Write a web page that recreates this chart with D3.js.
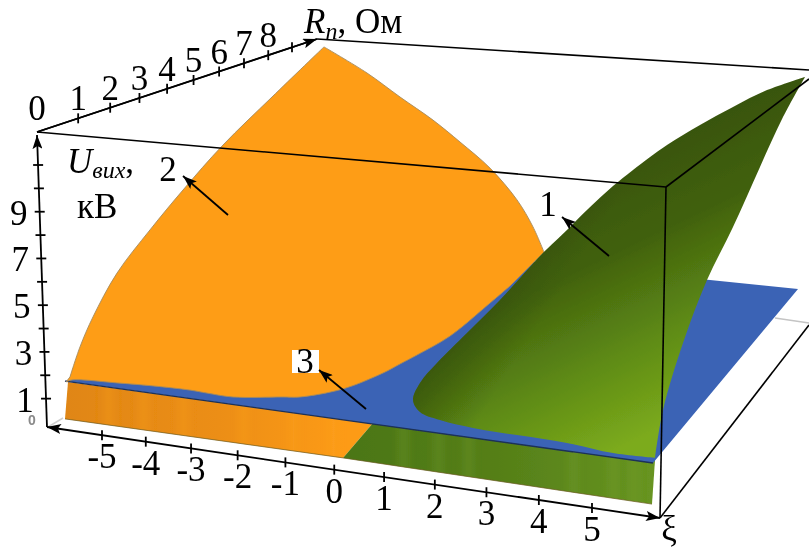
<!DOCTYPE html>
<html>
<head>
<meta charset="utf-8">
<script src="https://cdn.jsdelivr.net/npm/d3@7"></script>
<style>
	body { margin: 0; background: #fff; }
	svg { display: block; }
	text { font-family: 'Liberation Serif', serif; fill: #000; }
</style>
</head>
<body>
<svg id="chart" width="809" height="549"></svg>
<script>
// Tick values
var u_ticks = [1, 2, 3, 4, 5, 6, 7, 8, 9, 10, 11]
var u_labels = [1, 3, 5, 7, 9]
var rn_ticks = [1, 2, 3, 4, 5, 6, 7, 8, 9]
var rn_labels = [0, 1, 2, 3, 4, 5, 6, 7, 8]
var xi_ticks = [-5, -4, -3, -2, -1, 0, 1, 2, 3, 4, 5]

// Surface outlines, [xi, U] as read against the front face of the box
var orange_top = [[-0.59, 12.67], [0.27, 11.80], [0.93, 11.00], [1.59, 10.23], [2.13, 9.50], [2.73, 8.63], [3.27, 7.57], [3.59, 6.67], [3.81, 5.83]]
var orange_low = [[3.13, 4.70], [2.73, 4.13], [1.93, 3.03], [1.27, 2.40], [0.93, 2.10], [0.59, 1.80], [-0.21, 1.27], [-1.07, 1.00], [-1.41, 1.00], [-2.41, 1.00], [-2.93, 1.13], [-3.27, 1.23], [-4.01, 1.37], [-4.73, 1.47], [-5.63, 1.57], [-5.75, 1.50]]
var orange_left = [[-5.67, 1.67], [-5.47, 2.67], [-5.21, 3.67], [-4.73, 5.13], [-4.07, 6.57], [-3.41, 7.90], [-2.61, 9.40], [-1.63, 11.00], [-0.59, 12.67]]

var green_top = [[9.03, 11.67], [8.27, 11.23], [7.59, 10.67], [6.93, 10.07], [6.27, 9.40], [5.59, 8.57], [5.19, 8.03], [4.67, 7.23], [4.27, 6.57], [3.79, 5.80], [2.93, 4.23], [2.27, 3.13], [1.67, 2.13], [1.33, 1.47], [1.19, 0.90], [1.33, 0.50], [1.73, 0.23], [2.39, -0.03], [3.27, -0.27], [4.27, -0.53], [5.19, -0.87], [6.03, -1.03]]
var green_right = [[6.03, -1.03], [6.19, 0.57], [6.59, 2.80], [7.07, 4.90], [7.59, 6.67], [8.13, 8.67], [8.59, 10.33], [9.03, 11.67]]

var blue_plane = [[-5.77, 1.53], [5.99, -1.20], [8.89, 4.60], [7.13, 4.90], [1.93, 5.80]]
var orange_strip = [[-5.71, 1.50], [-5.77, 0.27], [-0.21, -1.03], [0.39, 0.13]]
var green_strip = [[0.39, 0.13], [-0.21, -1.03], [5.97, -2.57], [6.03, -1.10]]
var orange_bands = [-4.9, -4.2, -3.4, -2.2, -1.2, -0.4]
var green_bands = [1.0, 1.7, 2.3, 4.4, 5.2, 5.6]

// Scales
var x = d3.scaleLinear().domain([-6, 6]).range([53.5, 653.5])
var y = d3.scaleLinear().domain([0, 10]).range([427, 127])
var u_scale = d3.scaleLinear().domain([0, 11]).range([422, 165])
var rn_scale = d3.scalePow().exponent(0.83).domain([0, 9]).range([37, 292])
var xi_scale = d3.scalePow().exponent(1.2).domain([5, 15]).range([102, 592])

// Box corners and axis ends
var top_left = [37, 132], top_back = [317, 39], top_right = [809, 70]
var top_front = [666, 187], bottom_left = [47, 427], bottom_front = [660, 518]
var right_end = [809, 79]

var svg = d3.select('#chart')
var defs = svg.append('defs')

var add_gradient = function(id, x1, y1, x2, y2, stops){
	var g = defs.append('linearGradient').attr('id', id)
		.attr('gradientUnits', 'userSpaceOnUse')
		.attr('x1', x1).attr('y1', y1).attr('x2', x2).attr('y2', y2)
	stops.forEach(function(s){
		g.append('stop').attr('offset', s[0]).attr('stop-color', s[1]).attr('stop-opacity', s[2] === undefined ? 1 : s[2])
	})
}

add_gradient('green-fill', 500, 200, 620, 450, [[0, '#37520c'], [0.35, '#41610e'], [0.7, '#5f8c15'], [1, '#7cab1c']])
add_gradient('green-shade', 412, 385, 475, 425, [[0, '#2c4408', 0.55], [1, '#2c4408', 0]])
add_gradient('orange-strip-fill', 65, 0, 345, 0, [[0, '#e08612'], [0.55, '#ec8e13'], [1, '#fd9b16']])
add_gradient('green-strip-fill', 345, 0, 650, 0, [[0, '#4b7614'], [0.5, '#557f18'], [1, '#679420']])

defs.append('filter').attr('id', 'soft').append('feGaussianBlur').attr('stdDeviation', 0.45)
defs.append('filter').attr('id', 'band').attr('x', '-100%').attr('width', '300%')
	.append('feGaussianBlur').attr('stdDeviation', 4)

defs.append('marker').attr('id', 'head')
	.attr('viewBox', '0 0 14 10').attr('refX', 14).attr('refY', 5)
	.attr('markerUnits', 'userSpaceOnUse').attr('markerWidth', 14).attr('markerHeight', 10)
	.attr('orient', 'auto-start-reverse')
	.append('path').attr('d', 'M0,0L14,5L0,10L3,5Z').attr('fill', '#000')

var curve = d3.line().x(function(d){ return x(d[0]) }).y(function(d){ return y(d[1]) }).curve(d3.curveCatmullRom)

// Joins several curved edges in one outline with sharp corners between them
var outline = function(edges){
	return edges.map(function(e, i){
		var p = curve(e)
		return i == 0 ? p : 'L' + p.slice(1)
	}).join('') + 'Z'
}

var polygon = function(pts){
	return 'M' + pts.map(function(d){ return x(d[0]) + ',' + y(d[1]) }).join('L') + 'Z'
}

var surfaces = svg.append('g').attr('filter', 'url(#soft)')

// Front strips
var draw_strip = function(id, pts, fill, bands, band_color){
	defs.append('clipPath').attr('id', id).append('path').attr('d', polygon(pts))
	surfaces.append('path').attr('d', polygon(pts)).attr('fill', fill)
	surfaces.append('g').attr('clip-path', 'url(#' + id + ')')
		.selectAll('rect').data(bands).join('rect')
		.attr('x', function(d){ return x(d) - 5 })
		.attr('y', y(2))
		.attr('width', 10)
		.attr('height', y(-3) - y(2))
		.attr('fill', band_color)
		.attr('opacity', 0.3)
		.attr('filter', 'url(#band)')
	surfaces.append('line')
		.attr('x1', x(pts[1][0])).attr('y1', y(pts[1][1]))
		.attr('x2', x(pts[2][0])).attr('y2', y(pts[2][1]))
		.attr('stroke', '#6b5a20').attr('stroke-width', 1).attr('opacity', 0.7)
}

draw_strip('orange-clip', orange_strip, 'url(#orange-strip-fill)', orange_bands, '#ffa52a')
draw_strip('green-clip', green_strip, 'url(#green-strip-fill)', green_bands, '#7ba334')

// Plane 3
surfaces.append('path').attr('d', polygon(blue_plane)).attr('fill', '#3a63b5')
surfaces.append('line')
	.attr('x1', x(blue_plane[0][0])).attr('y1', y(blue_plane[0][1]))
	.attr('x2', x(blue_plane[1][0])).attr('y2', y(blue_plane[1][1]))
	.attr('stroke', '#1c3058').attr('stroke-width', 1.3)

// Surface 2
surfaces.append('path')
	.attr('d', outline([orange_top, orange_low, orange_left]))
	.attr('fill', '#fe9d17').attr('stroke', '#a58a5c').attr('stroke-width', 0.9)

// Surface 1
var green_path = outline([green_top, green_right])
surfaces.append('path').attr('d', green_path).attr('fill', 'url(#green-fill)')
surfaces.append('path').attr('d', green_path).attr('fill', 'url(#green-shade)')

// Box
var box_lines = [[top_left, top_front], [top_back, top_right], [top_front, right_end], [top_front, bottom_front], [top_left, top_back]]
svg.append('g').selectAll('line').data(box_lines).join('line')
	.attr('x1', function(d){ return d[0][0] }).attr('y1', function(d){ return d[0][1] })
	.attr('x2', function(d){ return d[1][0] }).attr('y2', function(d){ return d[1][1] })
	.attr('stroke', '#000').attr('stroke-width', 1.6)

// Pale floor lines
svg.append('line').attr('x1', 775).attr('y1', 318).attr('x2', 809).attr('y2', 323).attr('stroke', '#c4c4c4').attr('stroke-width', 1.5)
svg.append('line').attr('x1', 48).attr('y1', 427).attr('x2', 63).attr('y2', 418).attr('stroke', '#d0d0d0').attr('stroke-width', 1.5)

var arrow = function(a, b, width){
	svg.append('line')
		.attr('x1', a[0]).attr('y1', a[1]).attr('x2', b[0]).attr('y2', b[1])
		.attr('stroke', '#000').attr('stroke-width', width)
		.attr('marker-end', 'url(#head)')
}

// Axes lines
arrow(bottom_left, top_left.map(function(v, i){ return i == 1 ? v + 3 : v }), 1.8)
arrow(top_left, top_back, 1.8)
svg.append('line')
	.attr('x1', bottom_left[0]).attr('y1', bottom_left[1]).attr('x2', bottom_front[0]).attr('y2', bottom_front[1])
	.attr('stroke', '#000').attr('stroke-width', 1.8)
	.attr('marker-start', 'url(#head)').attr('marker-end', 'url(#head)')
svg.append('line')
	.attr('x1', bottom_front[0]).attr('y1', bottom_front[1]).attr('x2', 809).attr('y2', 325)
	.attr('stroke', '#000').attr('stroke-width', 1.6)

// Position on the slanted axes
var u_x = function(v){
	return top_left[0] + (u_scale(v) - top_left[1]) * (bottom_left[0] - top_left[0]) / (bottom_left[1] - top_left[1])
}
var rn_y = function(v){
	return top_left[1] + (rn_scale(v) - top_left[0]) * (top_back[1] - top_left[1]) / (top_back[0] - top_left[0])
}
var xi_x = function(v){ return xi_scale(v + 10) }
var xi_y = function(v){
	return bottom_left[1] + (xi_x(v) - bottom_left[0]) * (bottom_front[1] - bottom_left[1]) / (bottom_front[0] - bottom_left[0])
}

var tick_style = function(sel){
	sel.attr('stroke', '#000').attr('stroke-width', 1.8)
}

svg.append('g').selectAll('line').data(u_ticks).join('line')
	.attr('x1', function(d){ return u_x(d) - 5 }).attr('x2', function(d){ return u_x(d) + 5 })
	.attr('y1', u_scale).attr('y2', u_scale)
	.call(tick_style)

svg.append('g').selectAll('line').data(rn_ticks).join('line')
	.attr('x1', rn_scale).attr('x2', rn_scale)
	.attr('y1', function(d){ return rn_y(d) - 5 }).attr('y2', function(d){ return rn_y(d) + 5 })
	.call(tick_style)

svg.append('g').selectAll('line').data(xi_ticks).join('line')
	.attr('x1', xi_x).attr('x2', xi_x)
	.attr('y1', function(d){ return xi_y(d) - 5 }).attr('y2', function(d){ return xi_y(d) + 5 })
	.call(tick_style)

var font_size = 35

var label_style = function(sel){
	sel.attr('text-anchor', 'middle').attr('font-size', font_size)
}

svg.append('g').selectAll('text').data(u_labels).join('text')
	.attr('x', function(d){ return u_x(d) - 21 })
	.attr('y', function(d){ return u_scale(d) + 13 })
	.text(function(d){ return d })
	.call(label_style)

svg.append('g').selectAll('text').data(rn_labels).join('text')
	.attr('x', rn_scale)
	.attr('y', function(d){ return rn_y(d) - 8 - (d == 0 ? 4 : 0) })
	.text(function(d){ return d })
	.call(label_style)

svg.append('g').selectAll('text').data(xi_ticks).join('text')
	.attr('x', xi_x)
	.attr('y', function(d){ return xi_y(d) + 33 })
	.text(function(d){ return d })
	.call(label_style)

// Small zero of the plot itself
svg.append('text').attr('x', 32).attr('y', 425).attr('text-anchor', 'middle')
	.attr('font-size', 14).attr('font-weight', 'bold')
	.style('font-family', "'Liberation Sans', sans-serif").style('fill', '#8a8a8a')
	.text('0')

// Axis titles
var u_title = svg.append('text').attr('x', 67).attr('y', 173).attr('font-size', font_size)
u_title.append('tspan').attr('font-style', 'italic').text('U')
u_title.append('tspan').attr('font-style', 'italic').attr('font-size', 24).attr('dy', 5).text('вих')
u_title.append('tspan').attr('dy', -5).text(',')
svg.append('text').attr('x', 77).attr('y', 218).attr('font-size', 35).text('кВ')

var rn_title = svg.append('text').attr('x', 304).attr('y', 33).attr('font-size', font_size)
rn_title.append('tspan').attr('font-style', 'italic').text('R')
rn_title.append('tspan').attr('font-style', 'italic').attr('font-size', 24).attr('dy', 6).text('n')
rn_title.append('tspan').attr('dy', -6).text(', Ом')

svg.append('text').attr('x', 669).attr('y', 540).attr('text-anchor', 'middle').attr('font-size', font_size).text('ξ')

// Surface callouts
svg.append('rect').attr('x', 292).attr('y', 350).attr('width', 27).attr('height', 23).attr('fill', '#fff')

var callouts = [
	{label: '1', at: [548, 216], tip: [562, 217], tail: [609, 256]},
	{label: '2', at: [168, 181], tip: [183, 176], tail: [228, 215]},
	{label: '3', at: [305, 373], tip: [319, 370], tail: [366, 409]}
]

callouts.forEach(function(c){
	svg.append('text').attr('x', c.at[0]).attr('y', c.at[1]).attr('text-anchor', 'middle').attr('font-size', font_size).text(c.label)
	arrow(c.tail, c.tip, 1.8)
})
</script>
</body>
</html>
